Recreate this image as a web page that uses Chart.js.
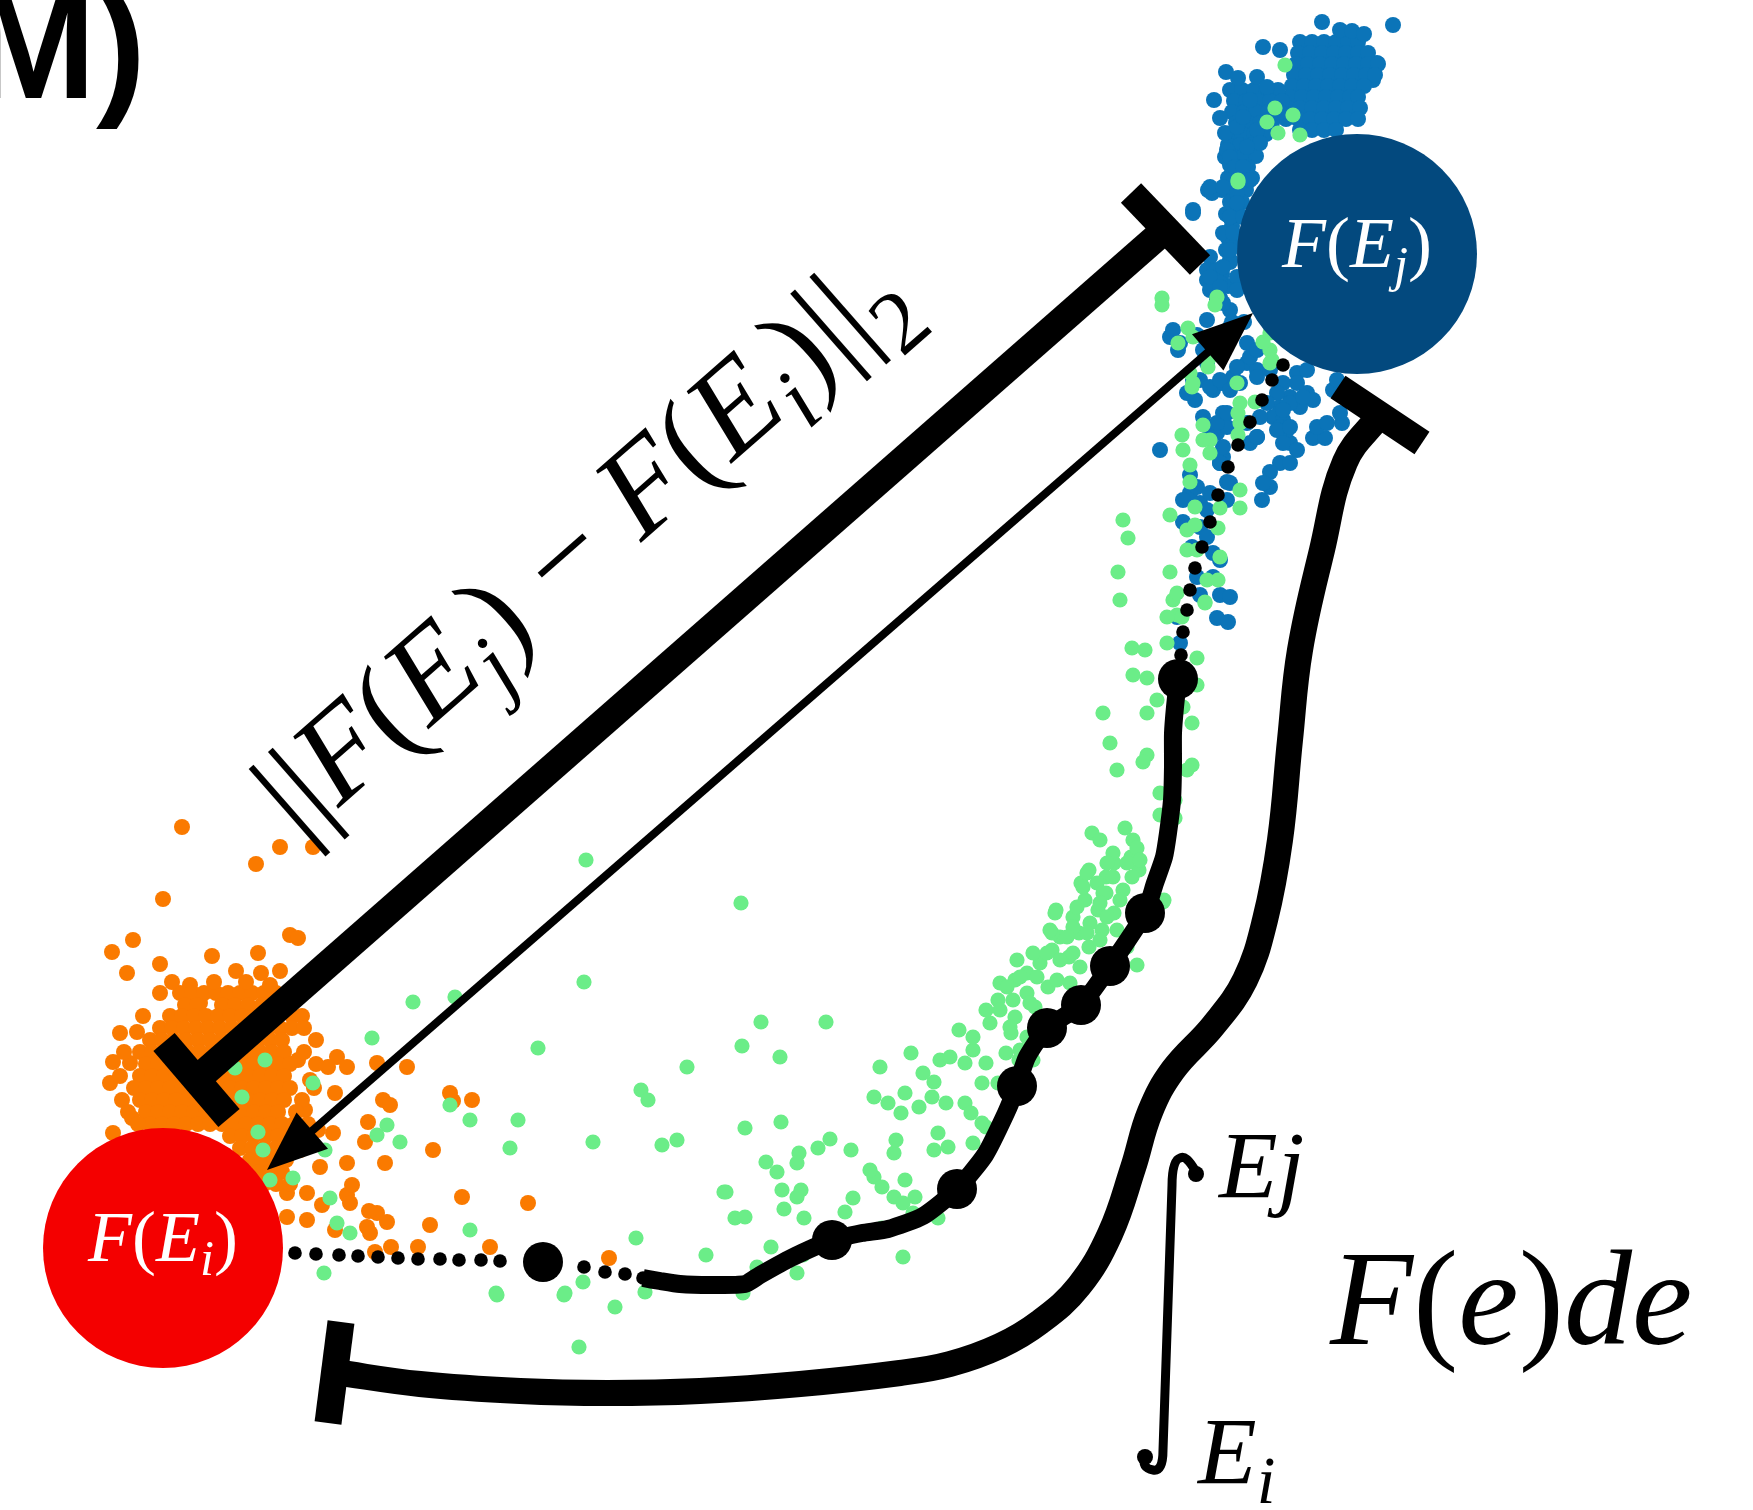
<!DOCTYPE html>
<html><head><meta charset="utf-8">
<script src="https://cdn.jsdelivr.net/npm/chart.js@4/dist/chart.umd.min.js"></script>
<style>html,body{margin:0;padding:0;background:#fff;overflow:hidden}#wrap{width:1753px;height:1510px}</style>
</head><body><div id="wrap"><canvas id="c" width="1753" height="1510"></canvas></div>
<script>
// ---- embedding coordinates (x right, y down) ----
const orangePoints = [
[182,827],[280,847],[313,847],[256,864],[163,899],[133,940],[112,952],[127,973],[160,964],[212,956],[258,953],[290,935],[298,938],[236,971],[261,973],[280,971],[190,985],[200,1003],[228,1003],[143,1016],[175,1025],[120,1033],[137,1032],[113,1062],[130,1063],[110,1083],[132,1118],[113,1133],
[337,1057],[347,1067],[328,1067],[335,1093],[377,1063],[407,1067],[450,1093],[472,1100],[383,1100],[390,1105],[368,1122],[365,1142],[385,1163],[433,1150],[462,1197],[347,1163],[333,1133],[320,1167],[307,1193],[307,1220],[347,1195],[350,1203],[377,1213],[387,1222],[430,1225],[367,1227],[287,1217],[287,1193],[273,1167],[453,1101],[369,1211],[335,1230],[391,1247],[352,1185],[322,1205],[375,1252],[609,1258],[305,1110],[318,1130],[300,1150],[310,1080],[298,1060],[528,1203],[490,1247],[418,1247],[370,1233],
[180,993],[192,993],[204,993],[216,993],[228,993],[240,993],[252,993],[264,993],[276,993],[288,993],[300,993],
[160,993],[172,982],[214,982],[246,982],[270,985],
[185,1005],[197,1005],[222,1005],[235,1005],[248,1005],[262,1005],[275,1005],[290,1005],
[170,1016],[182,1016],[194,1016],[206,1016],[218,1016],[230,1016],[242,1016],[254,1016],[266,1016],[278,1016],[292,1016],[302,1016],
[160,1028],[172,1028],[184,1028],[196,1028],[208,1028],[220,1028],[232,1028],[244,1028],[256,1028],[268,1028],[280,1028],[292,1028],
[150,1040],[162,1040],[174,1040],[186,1040],[198,1040],[210,1040],[222,1040],[234,1040],[246,1040],[258,1040],[270,1040],[282,1040],
[140,1052],[152,1052],[164,1052],[176,1052],[188,1052],[200,1052],[212,1052],[224,1052],[236,1052],[248,1052],[260,1052],[272,1052],[284,1052],
[146,1064],[158,1064],[170,1064],[182,1064],[194,1064],[206,1064],[218,1064],[230,1064],[242,1064],[254,1064],[266,1064],[278,1064],[290,1064],
[140,1076],[152,1076],[164,1076],[176,1076],[188,1076],[200,1076],[212,1076],[224,1076],[236,1076],[248,1076],[260,1076],[272,1076],[284,1076],
[134,1088],[146,1088],[158,1088],[170,1088],[182,1088],[194,1088],[206,1088],[218,1088],[230,1088],[242,1088],[254,1088],[266,1088],[278,1088],[290,1088],
[140,1100],[152,1100],[164,1100],[176,1100],[188,1100],[200,1100],[212,1100],[224,1100],[236,1100],[248,1100],[260,1100],[272,1100],[284,1100],
[146,1112],[158,1112],[170,1112],[182,1112],[194,1112],[206,1112],[218,1112],[230,1112],[242,1112],[254,1112],[266,1112],[278,1112],
[150,1124],[162,1124],[174,1124],[186,1124],[198,1124],[210,1124],[222,1124],[234,1124],[246,1124],[258,1124],[270,1124],[282,1124],[294,1124],
[230,1136],[242,1136],[254,1136],[266,1136],[278,1136],[290,1136],
[240,1148],[252,1148],[264,1148],[276,1148],[288,1148],
[250,1160],[262,1160],[274,1160],[286,1160],
[258,1172],[270,1172],[282,1172],[264,1184],[276,1184],[290,1184],
[304,1028],[316,1040],[304,1052],[316,1064],[302,1100],[314,1088],[296,1112],[308,1124],[120,1076],[122,1100],[128,1112],[124,1052],[138,1124]
];
const bluePoints = [
[1322,22],[1393,25],[1263,47],[1280,50],[1377,63],[1373,80],
[1300,42],[1312,42],[1324,42],[1336,42],[1348,42],[1358,42],
[1298,53],[1310,53],[1322,53],[1334,53],[1346,53],[1358,53],[1368,53],
[1296,64],[1308,64],[1320,64],[1332,64],[1344,64],[1356,64],[1368,64],[1378,64],
[1294,75],[1306,75],[1318,75],[1330,75],[1342,75],[1354,75],[1366,75],[1375,75],
[1292,86],[1304,86],[1316,86],[1328,86],[1340,86],[1352,86],[1364,86],
[1290,97],[1302,97],[1314,97],[1326,97],[1338,97],[1350,97],[1358,97],
[1288,108],[1300,108],[1312,108],[1324,108],[1336,108],[1348,108],[1360,108],
[1286,119],[1298,119],[1310,119],[1322,119],[1334,119],[1346,119],[1358,119],
[1300,130],[1312,130],[1324,130],[1336,130],
[1230,90],[1242,90],[1254,90],[1266,90],[1278,90],
[1234,101],[1246,101],[1258,101],[1270,101],[1282,101],
[1232,112],[1244,112],[1256,112],[1268,112],[1280,112],
[1236,123],[1248,123],[1260,123],[1272,123],
[1230,134],[1242,134],[1254,134],[1266,134],
[1228,145],[1240,145],[1252,145],[1232,156],[1244,156],[1256,156],[1236,167],[1248,167],
[1228,178],[1240,178],[1252,178],[1222,190],[1234,190],[1246,190],[1230,202],[1242,202],[1226,214],[1238,214],
[1232,226],[1228,238],[1226,250],[1230,262],[1222,274],[1216,286],[1228,286],[1220,298],[1230,310],[1232,322],[1244,322],
[1208,190],[1212,193],[1193,213],[1207,280],[1170,337],[1178,350],[1220,383],
[1200,380],[1213,390],[1223,383],[1233,377],[1247,363],[1257,370],[1297,373],[1307,370],[1307,393],[1313,400],[1290,397],[1280,407],[1273,417],[1283,420],[1300,407],[1342,423],[1313,438],[1325,438],[1290,443],[1280,427],[1287,430],[1223,413],[1210,430],[1217,433],[1227,427],[1257,437],[1250,443],[1223,457],[1220,463],[1280,463],[1290,463],[1270,487],[1262,500],[1227,482],[1227,500],[1190,493],[1200,503],[1207,510],[1183,522],[1192,547],[1213,577],[1200,595],[1217,618],[1228,622],[1333,390],[1337,380],[1195,400],[1187,393],
[1225,157],[1230,165],[1210,187],[1223,187],[1237,193],[1193,210],[1230,217],[1223,233],[1233,243],[1210,257],[1207,270],[1217,270],[1230,260],[1237,277],[1220,283],[1210,290],[1237,290],[1223,303],[1173,330],[1180,343],[1197,335],[1203,350],[1247,343],[1207,363],[1193,380],[1210,387],[1220,380],[1237,367],[1250,357],[1257,350],[1230,390],[1240,383],[1257,377],[1270,370],[1283,383],[1297,383],[1277,393],[1290,403],[1303,397],[1267,403],[1283,410],[1203,417],[1217,423],[1227,413],[1247,423],[1260,417],[1257,437],[1277,430],[1290,427],[1283,443],[1297,450],[1317,427],[1327,423],[1340,413],[1160,450],[1223,447],[1220,463],[1190,475],[1197,487],[1210,493],[1230,483],[1270,472],[1263,483],[1183,500],[1200,527],[1207,537],[1213,553],[1220,560],[1220,595],[1230,597],[1197,577],[1177,617],[1180,643],
[1227,150],[1230,157],[1235,167],[1225,133],[1237,127],[1243,117],[1257,77],[1267,87],[1250,100],[1257,130],[1260,143],[1247,147],[1243,167],[1250,180],[1237,203],[1230,217],[1243,217],[1233,233],[1230,250],[1223,267],[1210,277],[1220,287],[1217,300],[1207,320],[1230,327],
[1340,30],[1352,31],[1364,34],[1226,72],[1238,78],[1214,100],[1220,118]
];
const greenPoints = [
[586,860],[741,903],[584,982],[761,1022],[826,1022],[742,1046],[780,1057],[687,1067],[641,1090],[648,1100],[880,1067],[745,1128],[781,1122],[593,1142],[662,1145],[677,1140],[766,1162],[799,1153],[797,1163],[818,1148],[830,1139],[851,1150],[777,1172],[782,1190],[801,1190],[797,1197],[726,1192],[784,1209],[735,1218],[745,1217],[804,1218],[636,1238],[706,1255],[771,1247],[853,1198],[845,1212],[882,1228],[903,1257],[803,1255],[797,1273],[757,1267],[743,1293],[565,1293],[583,1282],[645,1292],
[874,1177],[870,1170],[882,1187],[894,1197],[905,1180],[915,1197],[903,1203],[915,1215],[936,1210],[938,1218],
[894,1153],[896,1140],[874,1097],[888,1103],[905,1093],[901,1113],[919,1107],[932,1097],[946,1103],[965,1103],[971,1113],[982,1123],[986,1127],[938,1133],[948,1147],[934,1150],[973,1143],[992,1142],
[934,1082],[923,1073],[911,1053],[940,1060],[950,1057],[965,1063],[973,1050],[986,1063],[982,1083],[998,1083],[1006,1053],[1019,1060],
[959,1030],[973,1037],[990,1023],[986,1010],[998,1000],[1015,1017],[1000,983],[1015,980],[1027,973],[1040,963],[1027,993],[1048,987],[1035,1007],
[1052,950],[1069,957],[1060,937],[1079,933],[1089,947],[1102,930],[1073,917],[1085,900],[1098,910],[1056,910],[1052,933],[1081,883],[1089,870],[1106,877],[1114,863],[1131,857],[1139,870],[1123,890],[1106,893],[1114,913],[1127,947],[1137,965],[1164,900],[1011,1033],[1027,1037],
[1120,600],[1173,600],[1205,603],[1177,615],[1167,643],[1133,675],[1147,678],[1197,685],[1157,700],[1183,707],[1103,713],[1147,713],[1192,723],[1110,743],[1147,755],[1143,762],[1117,770],[1192,765],[1187,770],[1173,778],[1160,793],[1175,800],[1160,815],[1175,818],[1125,828],[1092,833],[1100,840],[1133,840],[1137,848],[1113,853],[1107,863],[1127,863],[1140,860],[1087,873],[1097,883],[1113,877],[1132,877],[1083,887],[1103,893],[1100,903],[1120,900],[1163,902],[1077,907],[1055,913],[1073,927],[1090,923],[1107,917],[1050,930],[1067,937],[1087,933],[1100,940],[1117,930],[1017,960],[1033,953],[1047,953],[1060,960],[1073,953],[1080,967],[1007,987],[1020,977],[1037,977],[1057,980],[1070,983],[1000,1010],[1013,1000],[1030,1003],[1010,1027],[1020,1050],[1033,1060],
[1238,180],[1162,298],[1217,297],[1188,328],[1178,343],[1270,333],[1270,350],[1210,357],[1237,383],[1190,373],[1240,403],[1240,423],[1203,425],[1182,435],[1210,440],[1190,465],[1240,490],[1220,508],[1170,515],[1195,507],[1123,520],[1128,538],[1187,530],[1220,557],[1118,572],[1170,572],[1207,580],[1177,593],[1167,617],[1132,648],[1145,650],[1197,658],
[1285,65],[1275,108],[1293,115],[1267,122],[1278,133],[1300,135],[1238,182],[1162,305],[1215,305],[1193,337],[1263,342],[1272,360],[1208,367],[1192,387],
[1270,363],[1193,383],[1255,402],[1238,413],[1238,435],[1203,440],[1183,450],[1210,453],[1190,482],[1240,508],[1195,525],[1218,528],[1187,550],[1197,550],[1218,580],[1205,602],[1182,617],
[413,1002],[455,997],[372,1038],[265,1060],[235,1068],[242,1097],[313,1083],[258,1132],[263,1150],[270,1180],[293,1178],[387,1125],[377,1135],[400,1142],[450,1105],[470,1120],[510,1148],[330,1198],[337,1223],[350,1233],[470,1230],[325,1150],[518,1120],[538,1048],
[496,1293],[324,1273],[497,1295],[564,1295],[615,1307],[579,1347],[724,1192],[913,1213]
];
const trajectoryDots = [
[295,1253],[316,1254],[339,1255],[358,1256],[378,1257],[398,1258],[418,1259],[440,1259],[459,1260],[481,1260],[500,1261],[584,1267],[605,1272],[625,1274],[643,1278],
[1181,655],[1183,632],[1187,610],[1190,590],[1195,568],[1202,547],[1210,522],[1218,495],[1228,467],[1238,445],[1250,422],[1262,400],[1272,380],[1283,365],[1295,348]
];
const trajectoryPath = [
[643,1278],[660,1281],[680,1284],[710,1285],[745,1284],[760,1275],[791,1258],[832,1240],[862,1233],[888,1229],[923,1216],[957,1189],[985,1155],[1006,1113],[1017,1086],[1027,1057],[1047,1028],[1081,1005],[1110,966],[1145,913],[1155,883],[1164,857],[1168,833],[1172,800],[1173,767],[1173,733],[1175,707],[1178,679]
];
const keyframes = [[543,1262],[832,1240],[957,1189],[1017,1086],[1047,1028],[1081,1005],[1110,966],[1145,913],[1178,679]];
const endpointI = [163,1248];
const endpointJ = [1357,254];
const normBar = [[196,1080],[1166,229]];
const normCapLow = [[164,1042],[229,1118]];
const normCapHigh = [[1131,193],[1200,265]];
const distArrow = [[267,1170],[1253,313]];
const pathIntegral = [[334,1372],[420,1384],[520,1391],[607,1393],[700,1391],[800,1384],[900,1373],[950,1364],[1000,1346],[1040,1322],[1079,1286],[1110,1234],[1133,1168],[1150,1112],[1173,1070],[1213,1026],[1245,980],[1265,920],[1280,840],[1290,740],[1300,650],[1322,550],[1345,462],[1380,415]];
const pathCapLow = [[341,1322],[328,1423]];
const pathCapHigh = [[1338,387],[1422,443]];

// ---- label texts ----
const panelLabel = 'M)';
const labelI = [{t:'F',it:1},{t:'('},{t:'E',it:1},{t:'i',it:1,sub:1},{t:')'}];
const labelJ = [{t:'F',it:1},{t:'('},{t:'E',it:1},{t:'j',it:1,sub:1},{t:')'}];
const normLabel = [{t:'||'},{t:'F',it:1},{t:'('},{t:'E',it:1},{t:'j',it:1,sub:1},{t:')'},{t:' \u2212 '},{t:'F',it:1},{t:'('},{t:'E',it:1},{t:'i',it:1,sub:1},{t:')'},{t:'||'},{t:'2',sub:1,dy:0.26}];
const intUpper = [{t:'Ej',it:1}];
const intLower = [{t:'E',it:1},{t:'i',it:1,sub:1}];
const integrand = [{t:'F',it:1},{t:'('},{t:'e',it:1},{t:')'},{t:'d',it:1},{t:'e',it:1}];

// ---- styles / placement ----
const SERIF = "'Liberation Serif', 'DejaVu Serif', serif";
const place = {
  normAnchor:[300,842], normSize:128,
  labelSize:72, labelDy:13,
  intSign:{top:[1196,1172],arcTop:[1180,1158],s1:[1172,1186],s2:[1163,1450],arcBot:[1153,1470],bot:[1145,1457]},
  upper:[1219,1198], upperSize:96,
  lower:[1198,1484], lowerSize:96,
  integrandAt:[1330,1344], integrandSize:136
};

const toXY = a => a.map(p => ({x:p[0], y:p[1]}));
const pts = (data, color, r, order) => ({data:toXY(data), backgroundColor:color, borderWidth:0, pointRadius:r, pointHoverRadius:r, order});
const seg = (data, w, order, tension) => ({data:toXY(data), showLine:true, borderColor:'#000', borderWidth:w, pointRadius:0, pointHoverRadius:0, tension:tension||0, borderCapStyle:'butt', borderJoinStyle:'round', fill:false, order});

function runWidth(ctx, pieces, size){
  let w=0; for(const p of pieces){const s=p.sub?size*0.7:size; ctx.font=(p.it?'italic ':'')+s+'px '+SERIF; w+=ctx.measureText(p.t).width;} return w;
}
function drawRun(ctx, pieces, size){
  let x=0; ctx.textBaseline='alphabetic'; ctx.textAlign='left';
  for(const p of pieces){const s=p.sub?size*0.7:size; ctx.font=(p.it?'italic ':'')+s+'px '+SERIF;
    const dy=p.sub?size*(p.dy!==undefined?p.dy:0.2):0; ctx.fillText(p.t,x,dy); x+=ctx.measureText(p.t).width;}
  return x;
}

const overlay = {
  id:'overlay',
  afterDatasetsDraw(chart){
    const ctx=chart.ctx, X=v=>chart.scales.x.getPixelForValue(v), Y=v=>chart.scales.y.getPixelForValue(v);
    const P=p=>[X(p[0]),Y(p[1])];
    ctx.save();
    // arrow
    const a=P(distArrow[0]), b=P(distArrow[1]);
    const dx=b[0]-a[0], dy=b[1]-a[1], L=Math.hypot(dx,dy), ux=dx/L, uy=dy/L, hl=60, hw=24;
    ctx.strokeStyle='#000'; ctx.lineWidth=8; ctx.beginPath();
    ctx.moveTo(a[0]+ux*hl*0.8,a[1]+uy*hl*0.8); ctx.lineTo(b[0]-ux*hl*0.8,b[1]-uy*hl*0.8); ctx.stroke();
    const head=(tip,sx,sy)=>{ctx.beginPath();ctx.moveTo(tip[0],tip[1]);
      ctx.lineTo(tip[0]-sx*hl-sy*hw, tip[1]-sy*hl+sx*hw); ctx.lineTo(tip[0]-sx*hl+sy*hw, tip[1]-sy*hl-sx*hw); ctx.closePath(); ctx.fillStyle='#000'; ctx.fill();};
    head(b,ux,uy); head(a,-ux,-uy);
    // circles
    const circ=(c,col)=>{const p=P(c); const r=X(c[0]+120)-X(c[0]); ctx.beginPath(); ctx.arc(p[0],p[1],r,0,Math.PI*2); ctx.fillStyle=col; ctx.fill(); return p;};
    const ci=circ(endpointI,'#f40000'), cj=circ(endpointJ,'#03497e');
    ctx.fillStyle='#fff';
    for(const [c,lab] of [[ci,labelI],[cj,labelJ]]){const w=runWidth(ctx,lab,place.labelSize); ctx.save(); ctx.translate(c[0]-w/2,c[1]+place.labelDy); drawRun(ctx,lab,place.labelSize); ctx.restore();}
    // norm label
    ctx.fillStyle='#000';
    const n0=P(normBar[0]), n1=P(normBar[1]); const ang=Math.atan2(n1[1]-n0[1],n1[0]-n0[0]);
    const na=P(place.normAnchor); ctx.save(); ctx.translate(na[0],na[1]); ctx.rotate(ang); drawRun(ctx,normLabel,place.normSize); ctx.restore();
    // integral sign
    const s=place.intSign; const t=P(s.top),at=P(s.arcTop),s1=P(s.s1),s2=P(s.s2),ab=P(s.arcBot),bo=P(s.bot);
    ctx.strokeStyle='#000'; ctx.lineWidth=9; ctx.lineCap='round'; ctx.beginPath(); ctx.moveTo(t[0],t[1]);
    ctx.quadraticCurveTo(at[0]+6,at[1]-4,at[0],at[1]); ctx.quadraticCurveTo(s1[0],at[1]+2,s1[0],s1[1]);
    ctx.lineTo(s2[0],s2[1]); ctx.quadraticCurveTo(s2[0],ab[1]+2,ab[0],ab[1]); ctx.quadraticCurveTo(bo[0]-4,ab[1]-2,bo[0],bo[1]); ctx.stroke();
    ctx.beginPath(); ctx.arc(t[0],t[1]+2,8,0,Math.PI*2); ctx.fill();
    ctx.beginPath(); ctx.arc(bo[0],bo[1],8,0,Math.PI*2); ctx.fill();
    const txt=(at,pcs,size)=>{const p=P(at); ctx.save(); ctx.translate(p[0],p[1]); drawRun(ctx,pcs,size); ctx.restore();};
    txt(place.upper,intUpper,place.upperSize);
    txt(place.lower,intLower,place.lowerSize);
    txt(place.integrandAt,integrand,place.integrandSize);
    // panel label
    ctx.font="bold 150px 'Liberation Sans', Arial, sans-serif"; ctx.fillText(panelLabel, X(-29), Y(98));
    ctx.restore();
  }
};

new Chart(document.getElementById('c'), {
  type:'scatter',
  data:{datasets:[
    seg(normCapLow,28,1), seg(normCapHigh,28,1), seg(normBar,28,1),
    seg(pathCapLow,27,1), seg(pathCapHigh,27,1), seg(pathIntegral,26,1,0.4),
    pts(keyframes,'#000',20,2),
    pts(trajectoryDots,'#000',6.8,3),
    seg(trajectoryPath,18,4,0.2),
    pts(greenPoints,'#6bed88',7.6,5),
    pts(bluePoints,'#0b74b8',8,6),
    pts(orangePoints,'#fa7a00',8,7)
  ]},
  options:{
    responsive:false, animation:false, devicePixelRatio:1, events:[],
    layout:{padding:0, autoPadding:false},
    plugins:{legend:{display:false}, tooltip:{enabled:false}},
    scales:{x:{type:'linear',min:0,max:1753,display:false}, y:{type:'linear',min:0,max:1510,reverse:true,display:false}}
  },
  plugins:[overlay]
});
</script></body></html>
